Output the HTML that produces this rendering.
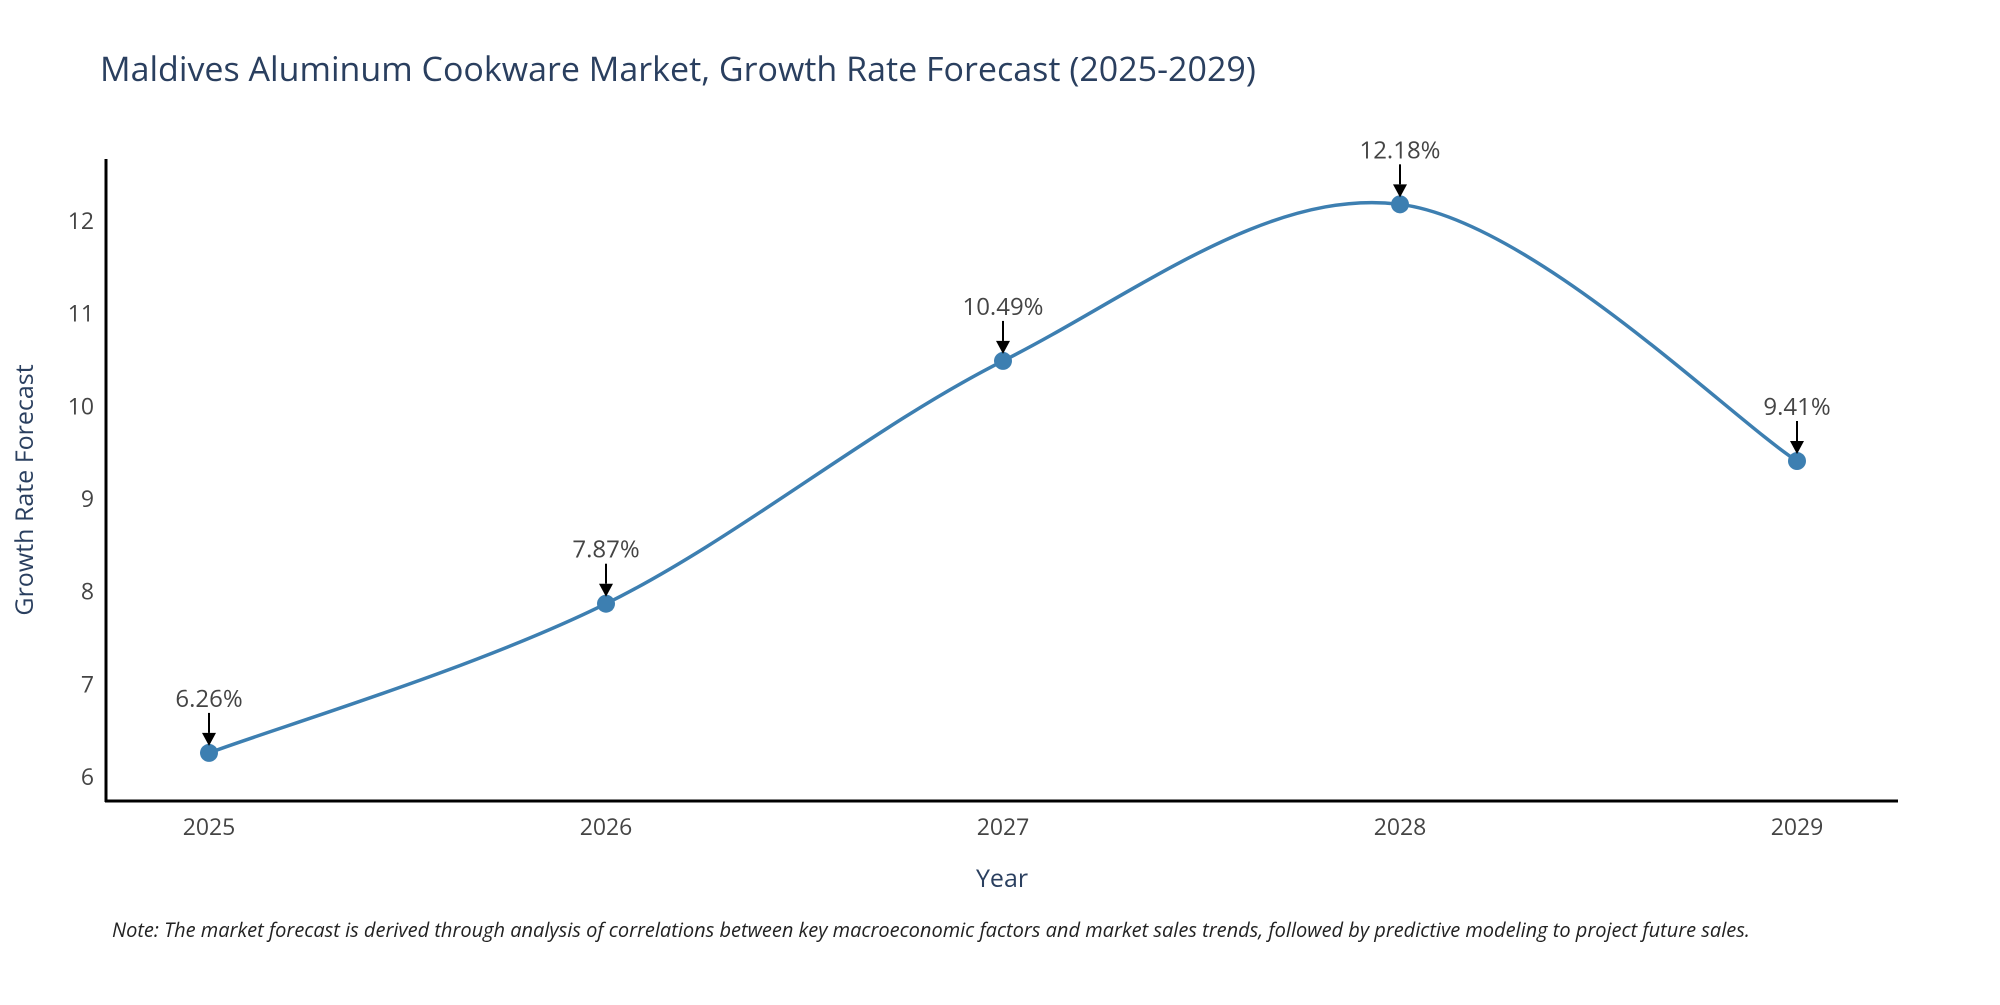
<!DOCTYPE html>
<html><head><meta charset="utf-8"><style>
body{margin:0;background:#fff;}
svg text{font-family:"Open Sans","Liberation Sans",sans-serif;}
</style></head><body>
<svg width="2000" height="1000" xmlns="http://www.w3.org/2000/svg">
<text x="100" y="81" font-size="34" fill="#2a3f5f">Maldives Aluminum Cookware Market, Growth Rate Forecast (2025-2029)</text>
<g id="yticks"></g>
<g id="xticks"></g>
<line x1="106" y1="159" x2="106" y2="802" stroke="#000" stroke-width="3"/>
<line x1="105" y1="801" x2="1898" y2="801" stroke="#000" stroke-width="3"/>
<path id="line" fill="none" stroke="#3d7fb1" stroke-width="3.5"/>
<g id="marks"></g>
<text x="1002" y="887" font-size="25" fill="#2a3f5f" text-anchor="middle">Year</text>
<text transform="translate(33,490) rotate(-90)" font-size="25" fill="#2a3f5f" text-anchor="middle">Growth Rate Forecast</text>
<text x="112" y="937" font-size="20" font-style="italic" fill="#222">Note: The market forecast is derived through analysis of correlations between key macroeconomic factors and market sales trends, followed by predictive modeling to project future sales.</text>
</svg>
<script>
const years=["2025","2026","2027","2028","2029"];
const values=[6.26,7.87,10.49,12.18,9.41];
const yTicks=[6,7,8,9,10,11,12];
const NS="http://www.w3.org/2000/svg";
function xs(i){return 209+i*(1797-209)/4;}
function ys(v){return 777-(v-6)*(777-221)/6;}
const yt=document.getElementById('yticks');
yTicks.forEach(t=>{const e=document.createElementNS(NS,'text');


e.setAttribute('x',94);e.setAttribute('y',ys(t)+8);e.setAttribute('text-anchor','end');
e.setAttribute('font-size','23');e.setAttribute('fill','#444');e.textContent=t;yt.appendChild(e);});
const xt=document.getElementById('xticks');
years.forEach((y,i)=>{const e=document.createElementNS(NS,'text');


e.setAttribute('x',xs(i));e.setAttribute('y',835);e.setAttribute('text-anchor','middle');
e.setAttribute('font-size','23');e.setAttribute('fill','#444');e.textContent=y;xt.appendChild(e);});
const P=values.map((v,i)=>[xs(i),ys(v)]);
let d=`M${P[0][0]},${P[0][1]}`;
for(let i=0;i<P.length-1;i++){const p0=P[Math.max(i-1,0)],p1=P[i],p2=P[i+1],p3=P[Math.min(i+2,P.length-1)];
const t=6;d+=` C${p1[0]+(p2[0]-p0[0])/t},${p1[1]+(p2[1]-p0[1])/t} ${p2[0]-(p3[0]-p1[0])/t},${p2[1]-(p3[1]-p1[1])/t} ${p2[0]},${p2[1]}`;}
document.getElementById('line').setAttribute('d',d);
const mk=document.getElementById('marks');
values.forEach((v,i)=>{const x=xs(i),y=ys(v);
const c=document.createElementNS(NS,'circle');


c.setAttribute('cx',x);c.setAttribute('cy',y);c.setAttribute('r',9);c.setAttribute('fill','#3d7fb1');mk.appendChild(c);
const l=document.createElementNS(NS,'line');


l.setAttribute('x1',x);l.setAttribute('y1',y-40);l.setAttribute('x2',x);l.setAttribute('y2',y-20);l.setAttribute('stroke','#000');l.setAttribute('stroke-width','2');mk.appendChild(l);
const a=document.createElementNS(NS,'polygon');


a.setAttribute('points',`${x-7},${y-20} ${x+7},${y-20} ${x},${y-7}`);a.setAttribute('fill','#000');mk.appendChild(a);
const t=document.createElementNS(NS,'text');


t.setAttribute('x',x);t.setAttribute('y',y-46);t.setAttribute('text-anchor','middle');t.setAttribute('font-size','24');t.setAttribute('fill','#444');
t.textContent=v.toFixed(2)+'%';mk.appendChild(t);});
</script>
</body></html>
